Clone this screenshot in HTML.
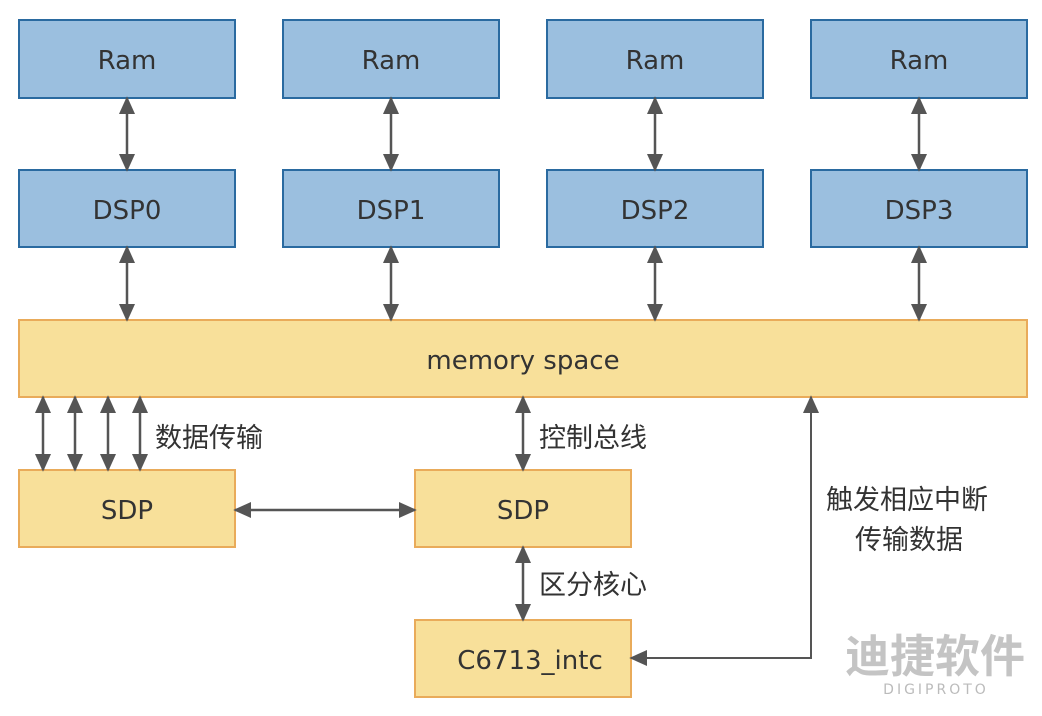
<!DOCTYPE html>
<html><head><meta charset="utf-8"><style>body{margin:0;background:#fff}svg{display:block}text{font-family:"DejaVu Sans","Noto Sans CJK SC",sans-serif;fill:#333}.c{font-family:"Noto Sans CJK SC",sans-serif}</style></head><body>
<svg width="1042" height="716" viewBox="0 0 1042 716" xmlns="http://www.w3.org/2000/svg">
<defs>
<marker id="m" viewBox="0 0 10 10" refX="9" refY="5" markerWidth="18" markerHeight="18" orient="auto-start-reverse" markerUnits="userSpaceOnUse"><path d="M0,0.5L10,5L0,9.5z" fill="#555"/></marker></defs>
<g fill="#9bbfdf" stroke="#2a6aa0" stroke-width="2">
<rect x="19" y="20" width="216" height="78"/><rect x="283" y="20" width="216" height="78"/><rect x="547" y="20" width="216" height="78"/><rect x="811" y="20" width="216" height="78"/>
<rect x="19" y="170" width="216" height="77"/><rect x="283" y="170" width="216" height="77"/><rect x="547" y="170" width="216" height="77"/><rect x="811" y="170" width="216" height="77"/>
</g>
<g fill="#f8e09a" stroke="#e9ab5a" stroke-width="2">
<rect x="19" y="320" width="1008" height="77"/><rect x="19" y="470" width="216" height="77"/><rect x="415" y="470" width="216" height="77"/><rect x="415" y="620" width="216" height="77"/>
</g>
<g stroke="#555" stroke-width="2.5" fill="none" marker-start="url(#m)" marker-end="url(#m)">
<line x1="127" y1="98" x2="127" y2="170"/><line x1="391" y1="98" x2="391" y2="170"/><line x1="655" y1="98" x2="655" y2="170"/><line x1="919" y1="98" x2="919" y2="170"/>
<line x1="127" y1="247" x2="127" y2="320"/><line x1="391" y1="247" x2="391" y2="320"/><line x1="655" y1="247" x2="655" y2="320"/><line x1="919" y1="247" x2="919" y2="320"/>
<line x1="43" y1="397" x2="43" y2="470"/><line x1="75" y1="397" x2="75" y2="470"/><line x1="108" y1="397" x2="108" y2="470"/><line x1="140" y1="397" x2="140" y2="470"/>
<line x1="235" y1="510" x2="415" y2="510"/><line x1="523" y1="397" x2="523" y2="470"/><line x1="523" y1="547" x2="523" y2="620"/>
</g>
<path d="M631,658 L811,658 L811,397" stroke="#555" stroke-width="2" fill="none" marker-start="url(#m)" marker-end="url(#m)"/>
<g font-size="26" text-anchor="middle">
<text x="127" y="69">Ram</text><text x="391" y="69">Ram</text><text x="655" y="69">Ram</text><text x="919" y="69">Ram</text>
<text x="127" y="219">DSP0</text><text x="391" y="219">DSP1</text><text x="655" y="219">DSP2</text><text x="919" y="219">DSP3</text>
<text x="523" y="369">memory space</text><text x="127" y="519">SDP</text><text x="523" y="519">SDP</text><text x="530" y="669">C6713_intc</text>
</g>
<g font-size="27" class="c">
<text class="c" x="155" y="447">数据传输</text><text class="c" x="539" y="447">控制总线</text><text class="c" x="539" y="594">区分核心</text>
<text class="c" x="826" y="509">触发相应中断</text><text class="c" x="855" y="549">传输数据</text>
</g>
<text class="c" x="935" y="672" font-size="45" font-weight="bold" text-anchor="middle" style="fill:#c4c4c4">迪捷软件</text>
<text x="936" y="694" font-size="14" text-anchor="middle" letter-spacing="3" style="fill:#bbb">DIGIPROTO</text>
</svg>
</body></html>
